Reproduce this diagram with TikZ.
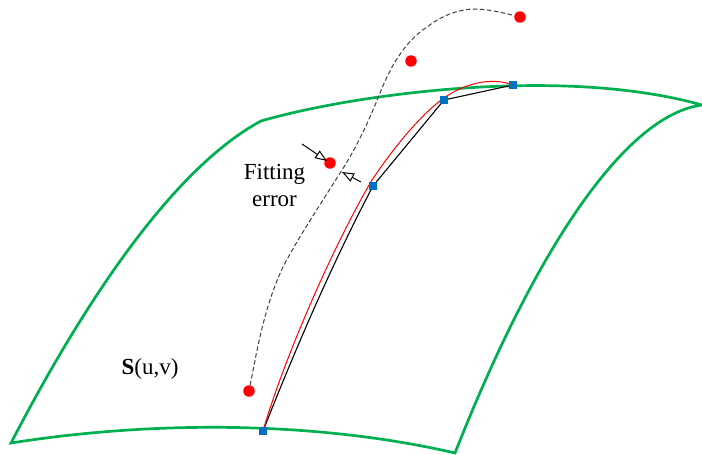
\documentclass[tikz,border=0pt]{standalone}
\usepackage{fontspec}
\setmainfont{Liberation Serif}
\usetikzlibrary{arrows.meta,backgrounds}
\definecolor{surf}{RGB}{0,176,80}
\definecolor{ctrl}{RGB}{0,112,192}
\tikzset{
  surfline/.style={draw=surf,line width=2.7pt,line join=miter},
  datapt/.style={circle,fill=red,inner sep=0pt,minimum size=11.5pt},
  ctrlpt/.style={rectangle,fill=ctrl,inner sep=0pt,minimum size=8.5pt},
  polyline/.style={draw=black,line width=1.1pt},
  fitcurve/.style={draw=red,line width=1pt},
  datacurve/.style={draw=black!75,line width=1pt,dash pattern=on 4.5pt off 2.5pt},
  errarrow/.style={draw=black,line width=1pt,-{Triangle[open,fill=white,length=12pt,width=9pt]}},
  lbl/.style={inner sep=0pt,font=\fontsize{23}{27}\selectfont,align=center}
}
\begin{document}
\begin{tikzpicture}[x=1pt,y=-1pt]
\useasboundingbox (0,0) rectangle (702,455);
% surface corners
\coordinate (sa) at (11,443);
\coordinate (sb) at (261,121);
\coordinate (sc) at (702,105);
\coordinate (sd) at (455,453);
% data points
\node[datapt] (d1) at (249,391) {};
\node[datapt] (d2) at (330,163) {};
\node[datapt] (d3) at (411,61) {};
\node[datapt] (d4) at (520,17) {};
% control points
\node[ctrlpt] (c1) at (263,431) {};
\node[ctrlpt] (c2) at (373,186) {};
\node[ctrlpt] (c3) at (444,100) {};
\node[ctrlpt] (c4) at (513,85) {};
\begin{scope}[on background layer]
\draw[surfline] (sa) .. controls (80,310) and (170,170) .. (sb)
  .. controls (350,95) and (560,65) .. (sc)
  .. controls (625,115) and (535,250) .. (sd)
  .. controls (330,424) and (170,418) .. cycle;
\draw[polyline] (c1.center) .. controls (297,345) and (333,262) .. (c2.center) -- (c3.center) -- (c4.center);
\draw[fitcurve] (c1.center) .. controls (283,362) and (330,252) .. (372,180)
  .. controls (392,150) and (420,115) .. (444,98)
  .. controls (462,85) and (490,76) .. (c4.center);
\draw[datacurve] (d1) .. controls (258,345) and (265,305) .. (283,267)
  .. controls (298,238) and (320,205) .. (342,170)
  .. controls (358,145) and (370,118) .. (380,93)
  .. controls (390,68) and (404,42) .. (427,27)
  .. controls (440,17) and (455,10) .. (473,9)
  .. controls (487,9) and (500,12) .. (d4);
\end{scope}
% error arrows
\coordinate (e1s) at (302,144);
\coordinate (e1t) at (327,161);
\coordinate (e2s) at (361,182);
\coordinate (e2t) at (342,172);
\draw[errarrow] (e1s) -- (e1t);
\draw[errarrow] (e2s) -- (e2t);
% labels
\node[lbl] (fit) at (274.5,185) {Fitting\\error};
\node[lbl] (su) at (150,369) {\textbf{S}(u,v)};
\end{tikzpicture}
\end{document}
